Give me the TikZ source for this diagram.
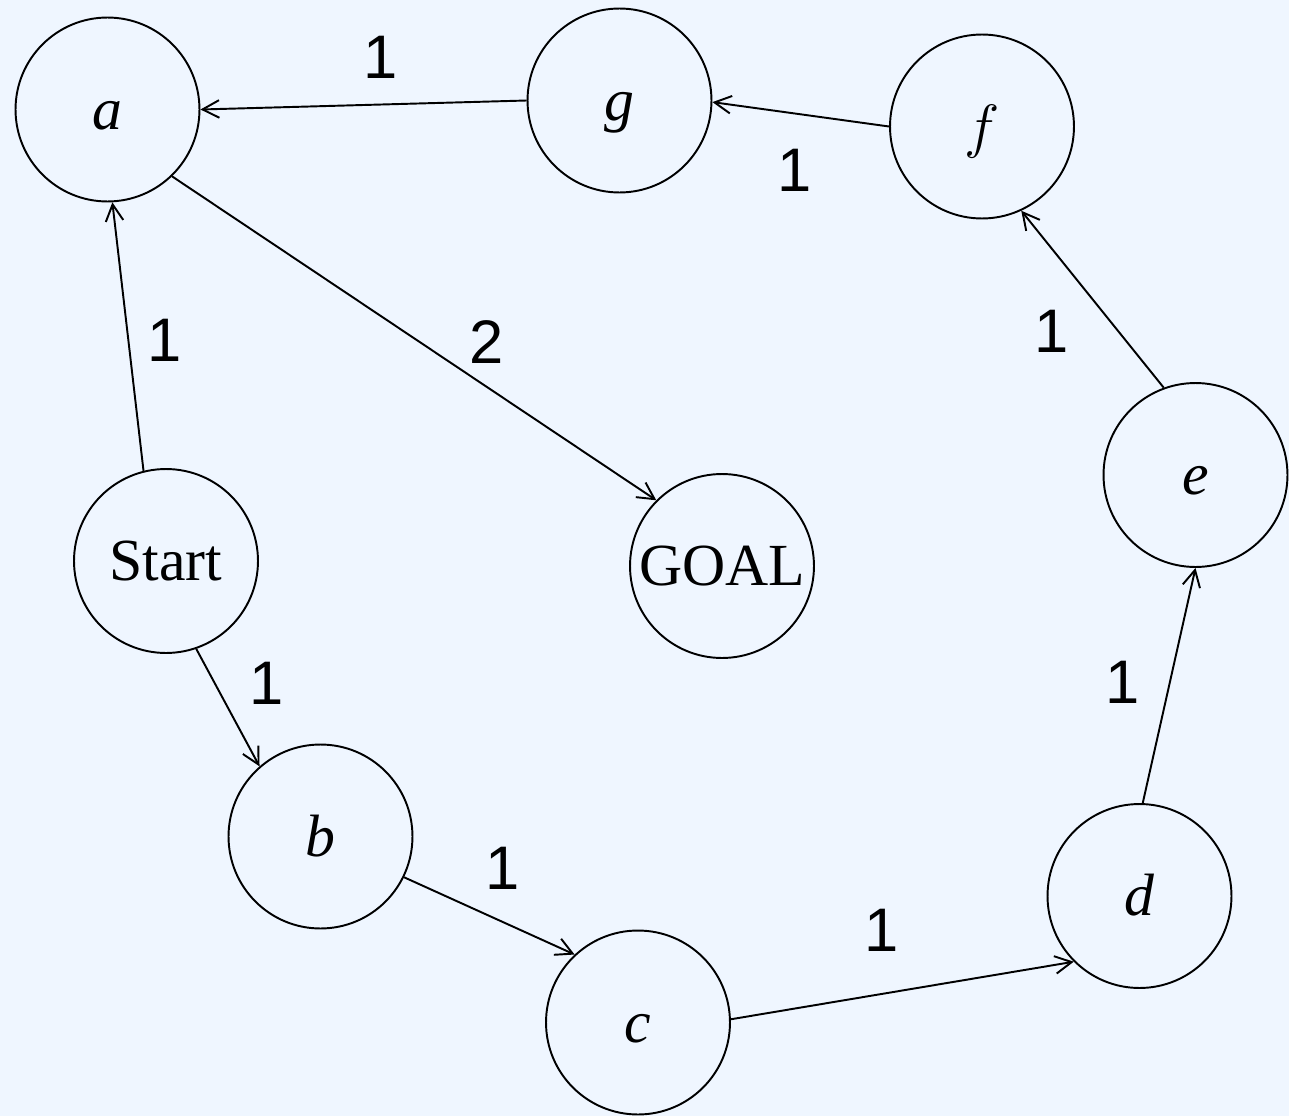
\RequirePackage{fix-cm}
\documentclass[tikz,border=0pt]{standalone}
\usepackage{fontspec}
\setmainfont{Liberation Serif}
\newfontfamily\wfont{Liberation Sans}
\usetikzlibrary{arrows.meta}
\definecolor{bgblue}{RGB}{239,246,255}
\tikzset{
  state/.style={draw, circle, line width=1.1pt, minimum size=3.68cm, inner sep=0pt,
    text height=22.7pt, text depth=0pt, font=\fontsize{34}{40}\selectfont},
  weight/.style={font=\wfont\fontsize{35}{40}\selectfont},
  arc/.style={line width=1.1pt, -{Straight Barb[length=9.5pt,width=10pt]}}
}
\begin{document}
\begin{tikzpicture}[x=0.02cm,y=-0.02cm]
\fill[bgblue] (0,0) rectangle (1289,1116);
\useasboundingbox (0,0) rectangle (1289,1116);
% states
\node[state] (a) at (107.5,109.5) {\textit{a}};
\node[state] (g) at (619.5,100.5) {\textit{g}};
\node[state] (f) at (982,126.5) {$f$};
\node[state] (e) at (1195.5,475) {\textit{e}};
\node[state] (start) at (166,561) {Start};
\node[state] (goal) at (722,566) {GOAL};
\node[state] (b) at (320.5,836.5) {\textit{b}};
\node[state] (c) at (638,1022.5) {\textit{c}};
\node[state] (d) at (1139.5,896) {\textit{d}};
% arcs
\draw[arc] (start.104) -- (a.-87);
\draw[arc] (a.-46) -- (goal.135);
\draw[arc] (g.180) -- (a.0);
\draw[arc] (f.180) -- (g.-1);
\draw[arc] (e.110) -- (f.-65);
\draw[arc] (d.88) -- (e.-90);
\draw[arc] (start.-71) -- (b.131);
\draw[arc] (b.-26) -- (c.133);
\draw[arc] (c.2) -- (d.-135);
% weights
\node[weight] (w-sa) at (165,340) {1};
\node[weight] (w-ag) at (487,342) {2};
\node[weight] (w-ga) at (381,57) {1};
\node[weight] (w-fg) at (795,170) {1};
\node[weight] (w-ef) at (1052,331) {1};
\node[weight] (w-de) at (1123,682) {1};
\node[weight] (w-sb) at (267,683) {1};
\node[weight] (w-bc) at (503,868) {1};
\node[weight] (w-cd) at (882,930) {1};
\end{tikzpicture}
\end{document}
